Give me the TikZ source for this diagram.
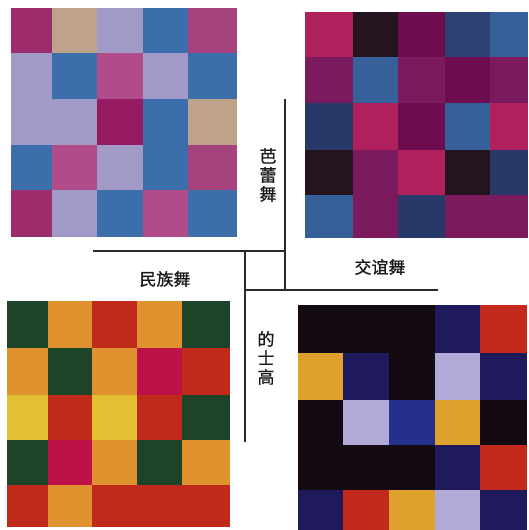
\documentclass[tikz,border=0pt]{standalone}
\usepackage{fontspec}
\newfontfamily\cjk[FakeBold=0.8]{Noto Sans CJK SC}
% grid 1 colours
\definecolor{Amar}{HTML}{9C2C6C}
\definecolor{Atan}{HTML}{BFA28A}
\definecolor{Alav}{HTML}{A29AC6}
\definecolor{Ablu}{HTML}{3B6EAA}
\definecolor{Amag}{HTML}{A6427E}
\definecolor{Apnk}{HTML}{B04C8A}
\definecolor{Adeep}{HTML}{961A62}
% grid 2 colours
\definecolor{Bcr}{HTML}{B0205C}
\definecolor{Bblk}{HTML}{251420}
\definecolor{Bdp}{HTML}{6E0C50}
\definecolor{Bnv}{HTML}{2C4274}
\definecolor{Bbl}{HTML}{36609A}
\definecolor{Bpu}{HTML}{7C1A5E}
\definecolor{Bnvd}{HTML}{283868}
% grid 3 colours
\definecolor{Cgr}{HTML}{1D4429}
\definecolor{Cor}{HTML}{E0922E}
\definecolor{Crd}{HTML}{C02A1A}
\definecolor{Cmr}{HTML}{BC1248}
\definecolor{Cye}{HTML}{E2C232}
% grid 4 colours
\definecolor{Dbk}{HTML}{140A12}
\definecolor{Dnv}{HTML}{1E1A5C}
\definecolor{Drd}{HTML}{C42A1C}
\definecolor{Dgo}{HTML}{E0A02C}
\definecolor{Dlv}{HTML}{B2AAD8}
\definecolor{Dbl}{HTML}{24308A}
\definecolor{linegray}{HTML}{2A2A2A}
\tikzset{
  divider/.style={draw=linegray, line width=1.3pt},
  label/.style={font=\cjk\fontsize{17}{19}\selectfont, text=black!90, inner sep=0pt, align=center},
}
% \drawgrid{xlist}{ylist}{rows}
\newcommand{\drawgrid}[3]{%
  \def\xs{#1}\def\ys{#2}%
  \foreach \row [count=\r from 0] in {#3} {%
    \foreach \col [count=\c from 0] in \row {%
      \pgfmathsetmacro{\xa}{\xs[\c]}%
      \pgfmathsetmacro{\xb}{\xs[\c+1]}%
      \pgfmathsetmacro{\ya}{\ys[\r]}%
      \pgfmathsetmacro{\yb}{\ys[\r+1]}%
      \fill[\col] (\xa,\ya) rectangle (\xb,\yb);
    }%
  }%
}
\begin{document}
\begin{tikzpicture}[x=1pt,y=-1pt]
\useasboundingbox (0,0) rectangle (528,530);
\fill[white] (0,0) rectangle (528,530);
% top-left grid (ballet)
\drawgrid{{11,52,97,143,188,237}}{{8,53,99,145,190,237}}{%
  {Amar,Atan,Alav,Ablu,Amag},
  {Alav,Ablu,Apnk,Alav,Ablu},
  {Alav,Alav,Adeep,Ablu,Atan},
  {Ablu,Apnk,Alav,Ablu,Amag},
  {Amar,Alav,Ablu,Apnk,Ablu}}
% top-right grid
\drawgrid{{305,353,398,445,490,528}}{{12,57,103,150,195,238}}{%
  {Bcr,Bblk,Bdp,Bnv,Bbl},
  {Bpu,Bbl,Bpu,Bdp,Bpu},
  {Bnvd,Bcr,Bdp,Bbl,Bcr},
  {Bblk,Bpu,Bcr,Bblk,Bnvd},
  {Bbl,Bpu,Bnvd,Bpu,Bpu}}
% bottom-left grid
\drawgrid{{7,48,92,137,182,230}}{{301,348,395,440,485,527}}{%
  {Cgr,Cor,Crd,Cor,Cgr},
  {Cor,Cgr,Cor,Cmr,Crd},
  {Cye,Crd,Cye,Crd,Cgr},
  {Cgr,Cmr,Cor,Cgr,Cor},
  {Crd,Cor,Crd,Crd,Crd}}
% bottom-right grid
\drawgrid{{298,343,389,435,480,527}}{{305,353,400,445,490,530}}{%
  {Dbk,Dbk,Dbk,Dnv,Drd},
  {Dgo,Dnv,Dbk,Dlv,Dnv},
  {Dbk,Dlv,Dbl,Dgo,Dbk},
  {Dbk,Dbk,Dbk,Dnv,Drd},
  {Dnv,Drd,Dgo,Dlv,Dnv}}
% dividers
\coordinate (v1top) at (285,99);
\coordinate (v1bot) at (285,290);
\coordinate (h1l) at (93,251);
\coordinate (h1r) at (285,251);
\coordinate (v2top) at (245,251);
\coordinate (v2bot) at (245,442);
\coordinate (h2l) at (245,290);
\coordinate (h2r) at (438,290);
\draw[divider] (v1top) -- (v1bot);
\draw[divider] (h1l) -- (h1r);
\draw[divider] (v2top) -- (v2bot);
\draw[divider] (h2l) -- (h2r);
% labels
\node[label] (ballet) at (268,175) {芭\\蕾\\舞};
\node[label] (social) at (380,267) {交谊舞};
\node[label] (folk) at (165,279) {民族舞};
\node[label] (disco) at (266,358) {的\\士\\高};
\end{tikzpicture}
\end{document}
